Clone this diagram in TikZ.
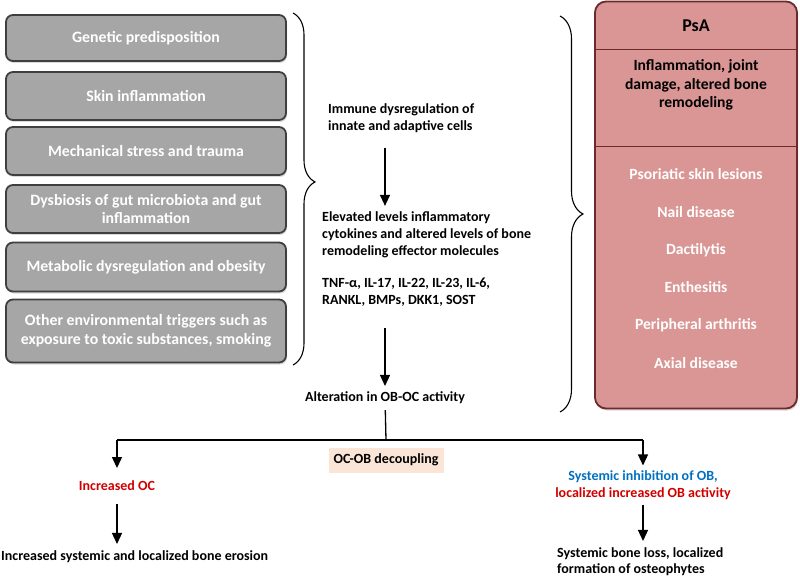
\documentclass[tikz,border=0pt]{standalone}
\usepackage{fontspec}
\setmainfont{Carlito}
\usetikzlibrary{arrows.meta,decorations.pathreplacing,shadows}

\definecolor{factorfill}{HTML}{A6A6A6}
\definecolor{factoredge}{HTML}{3F3F3F}
\definecolor{psafill}{HTML}{D99694}
\definecolor{psaedge}{HTML}{6E2A28}
\definecolor{decouplefill}{HTML}{FBE5D6}
\definecolor{ocred}{HTML}{D00000}
\definecolor{obblue}{HTML}{0070C0}

\tikzset{
  factor/.style={draw=factoredge, line width=1.8pt, fill=factorfill, rounded corners=7pt,
    text=white, font=\fontsize{15.8}{18.5}\selectfont\bfseries, align=center,
    minimum width=280pt, inner sep=2pt,
    drop shadow={shadow xshift=1pt, shadow yshift=-2pt, opacity=0.3}},
  midtext/.style={font=\fontsize{14}{17}\selectfont\bfseries, align=left, inner sep=0pt},
  psaitem/.style={font=\fontsize{15.6}{18.5}\selectfont\bfseries, align=center, inner sep=0pt},
  flow/.style={line width=1.3pt, -{Triangle[length=11pt,width=10pt]}},
  grouping/.style={decorate, line width=1.1pt},
}

\begin{document}
\begin{tikzpicture}[x=1pt,y=-1pt]
\useasboundingbox (0,0) rectangle (800,577);

% triggers
\foreach \name/\y/\h/\txt in {gen/38/46/{Genetic predisposition},
    skin/96/48/{Skin inflammation},
    mech/151/48/{Mechanical stress and trauma},
    gut/209/48/{Dysbiosis of gut microbiota and gut\\inflammation},
    meta/267/49/{Metabolic dysregulation and obesity},
    env/331/63/{Other environmental triggers such as\\exposure to toxic substances, smoking}} {
  \node (\name) at (146,\y) [factor, minimum height=\h pt] {\txt};
}
\draw[grouping, decoration={brace, amplitude=22pt, aspect=0.48}] (293,13) -- (293,365);

% immune cascade
\coordinate (ax) at (385,0);
\node (immune) at (328,118) [midtext, anchor=west, outer ysep=15pt] {Immune dysregulation of\\innate and adaptive cells};
\node (elevated) at (322,235) [midtext, anchor=west, outer ysep=6pt] {Elevated levels inflammatory\\cytokines and altered levels of bone\\remodeling effector molecules};
\node (mediators) at (322,292) [midtext, anchor=west, outer ysep=22pt] {TNF-α, IL-17, IL-22, IL-23, IL-6,\\RANKL, BMPs, DKK1, SOST};
\node (alter) at (385,398) [midtext, outer ysep=6pt] {Alteration in OB-OC activity};
\draw[flow] (immune.south -| ax) -- (elevated.north -| ax);
\draw[flow] (mediators.south -| ax) -- (alter.north -| ax);

% PsA
\draw[grouping, decoration={brace, amplitude=23pt, aspect=0.5}] (560,16) -- (560,412);
\node (psa) at (696,205) [draw=psaedge, line width=1.8pt, fill=psafill, rounded corners=11pt,
  minimum width=202pt, minimum height=407pt,
  drop shadow={shadow xshift=1pt, shadow yshift=-2pt, opacity=0.3}] {};
\draw[psaedge, line width=0.8pt] (psa.west |- 0,49) -- (psa.east |- 0,49);
\draw[psaedge, line width=0.8pt] (psa.west |- 0,146) -- (psa.east |- 0,146);
\node (psatitle) at (696,26) [psaitem, font=\fontsize{18}{20}\selectfont\bfseries] {PsA};
\node (psadamage) at (696,85) [psaitem] {Inflammation, joint\\damage, altered bone\\remodeling};
\foreach \name/\y/\txt in {lesion/174/{Psoriatic skin lesions}, nail/212/{Nail disease},
    dact/250/{Dactilytis}, enth/287/{Enthesitis}, arthr/325/{Peripheral arthritis},
    axial/363/{Axial disease}} {
  \node (\name) at (696,\y) [psaitem, text=white] {\txt};
}

% decoupling
\coordinate (junc) at (386,440);
\coordinate (lft) at (117,440);
\coordinate (rgt) at (643,440);
\draw[line width=1.3pt] (alter) -- (junc);
\draw[line width=1.3pt] (lft) -- (rgt);
\node (decouple) at (386,460) [midtext, fill=decouplefill, minimum width=115pt, minimum height=25pt] {OC-OB decoupling};
\node (incoc) at (117,486) [midtext, text=ocred, outer ysep=13pt] {Increased OC};
\node (inhib) at (643,485) [midtext, align=center, outer ysep=5pt] {\textcolor{obblue}{Systemic inhibition of OB,}\\\textcolor{ocred}{localized increased OB activity}};
\node (erosion) at (1,557) [midtext, anchor=west, outer ysep=7pt] {Increased systemic and localized bone erosion};
\node (boneloss) at (557,562) [midtext, anchor=west, outer ysep=7pt, font=\fontsize{14}{16}\selectfont\bfseries] {Systemic bone loss, localized\\formation of osteophytes};
\draw[flow] (lft) -- (incoc);
\draw[flow] (rgt) -- (inhib);
\draw[flow] (incoc) -- (erosion.north -| incoc);
\draw[flow] (inhib) -- (boneloss.north -| inhib);
\end{tikzpicture}
\end{document}
